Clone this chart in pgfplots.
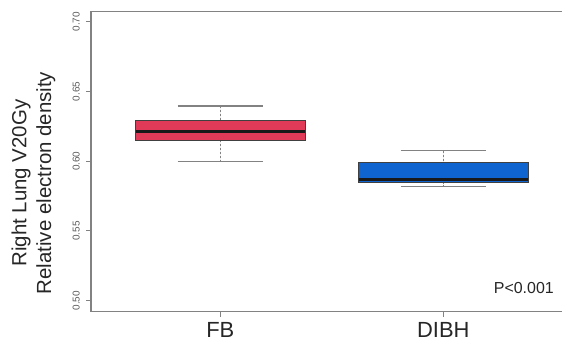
\documentclass[border=0pt]{standalone}
\usepackage{fontspec}
\setmainfont{Liberation Sans}
\usepackage{pgfplots}
\pgfplotsset{compat=1.18}
\usepgfplotslibrary{statistics}
\definecolor{fbred}{RGB}{224,58,88}
\definecolor{dibhblue}{RGB}{16,100,208}
\definecolor{axgray}{RGB}{130,130,130}
\definecolor{lblgray}{RGB}{90,90,90}
\begin{document}
\begin{tikzpicture}
\begin{axis}[
  scale only axis,
  width=481.7bp, height=300bp,
  xmin=0.42, xmax=2.58,
  ymin=0.4921, ymax=0.7072,
  axis line style={axgray, line width=1.3bp},
  tick style={axgray, line width=1bp},
  tick align=outside,
  major tick length=5bp,
  xtick={1,2},
  xticklabels={FB,DIBH},
  ytick={0.50,0.55,0.60,0.65,0.70},
  yticklabels={0.50,0.55,0.60,0.65,0.70},
  xtick pos=bottom, ytick pos=left,
  yticklabel style={xshift=-6bp, rotate=90, anchor=south, inner sep=0pt, font=\fontsize{10}{12}\selectfont, text=lblgray},
  xticklabel style={yshift=-5.5bp, anchor=north, inner sep=0pt, font=\fontsize{22}{26}\selectfont, text=black!85},
  every axis y label/.style={at={(rel axis cs:0,0.429)}, xshift=-57.5bp, anchor=center, rotate=90, align=center, font=\fontsize{20.5}{25}\selectfont, text=black!85},
  ylabel={Right Lung V20Gy\\Relative electron density},
  boxplot/draw direction=y,
  boxplot/every median/.style={line width=3bp, black!90},
  boxplot/every box/.style={draw=black!75, line width=1bp},
  boxplot/draw/lower whisker/.code={%
    \draw[axgray, line width=1bp, dash pattern=on 2bp off 2bp]
      (boxplot cs:\pgfplotsboxplotvalue{lower whisker}) -- (boxplot cs:\pgfplotsboxplotvalue{lower quartile});
    \draw[axgray, line width=1.2bp]
      (boxplot whisker cs:\pgfplotsboxplotvalue{lower whisker},0) -- (boxplot whisker cs:\pgfplotsboxplotvalue{lower whisker},1);
  },
  boxplot/draw/upper whisker/.code={%
    \draw[axgray, line width=1bp, dash pattern=on 2bp off 2bp]
      (boxplot cs:\pgfplotsboxplotvalue{upper whisker}) -- (boxplot cs:\pgfplotsboxplotvalue{upper quartile});
    \draw[axgray, line width=1.2bp]
      (boxplot whisker cs:\pgfplotsboxplotvalue{upper whisker},0) -- (boxplot whisker cs:\pgfplotsboxplotvalue{upper whisker},1);
  },
]
\addplot[fill=fbred, boxplot prepared={draw position=1, median=0.6211, upper quartile=0.6295, lower quartile=0.6152, upper whisker=0.6396, lower whisker=0.5996, box extend=0.76, whisker extend=0.38}] coordinates {};
\addplot[fill=dibhblue, boxplot prepared={draw position=2, median=0.5870, upper quartile=0.5989, lower quartile=0.5846, upper whisker=0.6075, lower whisker=0.5817, box extend=0.76, whisker extend=0.38}] coordinates {};
\node[anchor=east, inner sep=0pt, font=\fontsize{16}{19}\selectfont, text=black!85] at (axis cs:2.496,0.5091) {P<0.001};
\end{axis}
\pgfresetboundingbox
\path (current axis.south west) ++(-91bp,-30.3bp) rectangle ++(562bp,342bp);
\end{tikzpicture}
\end{document}
